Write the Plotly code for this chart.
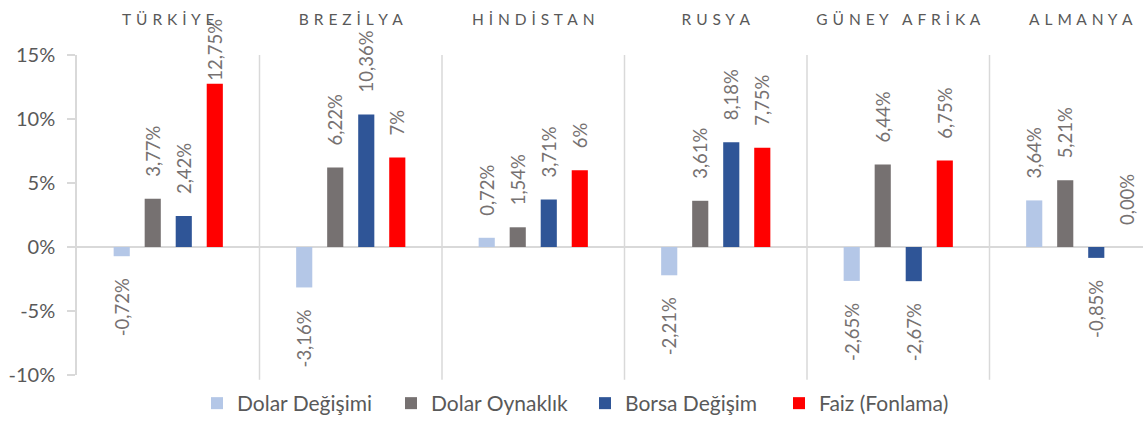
import plotly.graph_objects as go

categories = ["TÜRKİYE", "BREZİLYA", "HİNDİSTAN", "RUSYA", "GÜNEY AFRİKA", "ALMANYA"]
series_names = ["Dolar Değişimi", "Dolar Oynaklık", "Borsa Değişim", "Faiz (Fonlama)"]
dolar_degisimi = [-0.72, -3.16, 0.72, -2.21, -2.65, 3.64]
dolar_oynaklik = [3.77, 6.22, 1.54, 3.61, 6.44, 5.21]
borsa_degisim = [2.42, 10.36, 3.71, 8.18, -2.67, -0.85]
faiz_fonlama = [12.75, 7.00, 6.00, 7.75, 6.75, 0.00]
faiz_labels = ["12,75%", "7%", "6%", "7,75%", "6,75%", "0,00%"]
colors = ["#B4C7E7", "#767171", "#2F5597", "#FF0000"]
y_tickvals = [-10, -5, 0, 5, 10, 15]
y_ticktext = ["-10%", "-5%", "0%", "5%", "10%", "15%"]

FONT = "Lato"
GREY = "#595959"
LABEL_GREY = "#767171"
NB = "\u00a0"


def fmt(v):
    return f"{v:.2f}".replace(".", ",") + "%"


def padded(txt, v):
    # gap between bar end and the rotated data label
    if v > 12:
        return txt
    if v < 0:
        return txt + NB * 4
    return NB * 4 + txt


def spaced(s):
    return "\u200a ".join(list(s)).replace("\u200a \u200a ", "\u200a  ")


series = [dolar_degisimi, dolar_oynaklik, borsa_degisim, faiz_fonlama]
labels = [[fmt(v) for v in dolar_degisimi],
          [fmt(v) for v in dolar_oynaklik],
          [fmt(v) for v in borsa_degisim],
          faiz_labels]

fig = go.Figure()
for name, vals, txt, col in zip(series_names, series, labels, colors):
    fig.add_trace(go.Bar(
        x=categories, y=vals, name=name, marker=dict(color=col, line=dict(width=0)),
        text=[padded(t, v) for t, v in zip(txt, vals)],
        textposition="outside", textangle=-90,
        textfont=dict(family=FONT, size=18.5, color=LABEL_GREY),
        cliponaxis=False, constraintext="none",
    ))

# vertical separators between categories
for i in range(1, len(categories)):
    fig.add_shape(type="line", xref="x", yref="paper", x0=i - 0.5, x1=i - 0.5,
                  y0=-0.015, y1=1, line=dict(color="#D9D9D9", width=1.5), layer="below")

W, H = 1143, 424
ml, mt, mb = 77, 55, 46
plot_w = W - ml
cat_px = 182.5

fig.update_layout(
    width=W, height=H,
    margin=dict(l=ml, r=0, t=mt, b=mb),
    paper_bgcolor="white", plot_bgcolor="white",
    barmode="group", bargap=0.32, bargroupgap=0.48,
    font=dict(family=FONT, color=GREY),
    showlegend=True,
    legend=dict(orientation="h", x=(197 - ml) / plot_w, xanchor="left",
                y=-0.09, yanchor="middle",
                font=dict(family=FONT, size=21, color=GREY), itemwidth=30,
                entrywidth=149, entrywidthmode="pixels",
                traceorder="normal"),
    xaxis=dict(
        side="top", range=[-0.5, -0.5 + plot_w / cat_px],
        tickmode="array", tickvals=categories, ticktext=[spaced(c) for c in categories],
        tickfont=dict(family=FONT, size=15.5, color=GREY),
        showline=False, ticks="", showgrid=False, zeroline=False,
        ticklabelstandoff=26,
    ),
    yaxis=dict(
        range=[-10, 15], tickmode="array", tickvals=y_tickvals, ticktext=y_ticktext,
        tickfont=dict(family=FONT, size=20, color=GREY),
        showline=True, linecolor="#D9D9D9", linewidth=1.5,
        ticks="outside", ticklen=8, tickcolor="#D9D9D9", tickwidth=1.5,
        showgrid=False, zeroline=True, zerolinecolor="#D9D9D9", zerolinewidth=1.5,
        ticklabelstandoff=8,
    ),
)

fig.write_html("out.html")
